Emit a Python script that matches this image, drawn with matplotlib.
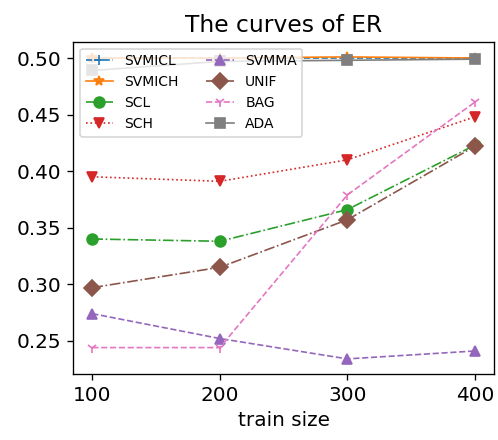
import matplotlib

matplotlib.use("Agg")
import matplotlib.pyplot as plt

train_size = [100, 200, 300, 400]

svmicl = [0.500, 0.500, 0.500, 0.500]
svmich = [0.500, 0.500, 0.501, 0.500]
scl = [0.340, 0.338, 0.366, 0.423]
sch = [0.395, 0.391, 0.410, 0.448]
svmma = [0.274, 0.252, 0.234, 0.241]
unif = [0.297, 0.315, 0.357, 0.422]
bag = [0.244, 0.244, 0.379, 0.461]
ada = [0.489, 0.497, 0.498, 0.499]

series = [
    ("SVMICL", svmicl, "C0", "--", "+"),
    ("SVMICH", svmich, "C1", "-", "*"),
    ("SCL", scl, "C2", "-.", "o"),
    ("SCH", sch, "C3", ":", "v"),
    ("SVMMA", svmma, "C4", "--", "^"),
    ("UNIF", unif, "C5", "-.", "D"),
    ("BAG", bag, "C6", "--", "1"),
    ("ADA", ada, "C7", "-", "s"),
]

dpi = 120
fig = plt.figure(figsize=(498 / dpi, 440 / dpi), dpi=dpi)
ax = fig.add_axes([0.147, 0.15, 0.845, 0.755])

for name, vals, color, ls, mk in series:
    ax.plot(train_size, vals, color=color, linestyle=ls, marker=mk,
            markersize=6.5, linewidth=1, label=name)

ax.set_title("The curves of ER", fontsize=14)
ax.set_xlabel("train size", fontsize=12)
ax.set_xticks(train_size)
ax.tick_params(labelsize=12)
ax.legend(ncol=2, fontsize=8.3, loc="upper left")

fig.savefig("out.png", dpi=dpi)
